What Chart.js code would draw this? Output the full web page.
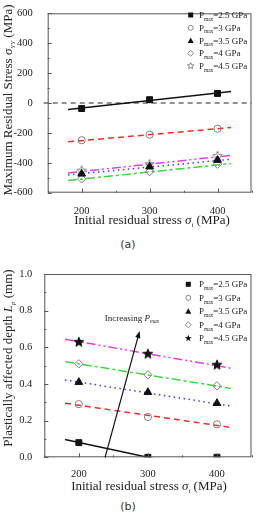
<!DOCTYPE html>
<html>
<head>
<meta charset="utf-8">
<script src="https://cdn.jsdelivr.net/npm/chart.js@4.4.1/dist/chart.umd.min.js"></script>
<style>
  body { margin: 0; background: #fff; width: 257px; height: 514px; overflow: hidden; position: relative; }
  .wrap { position: absolute; left: 0; }
  .cap { position: absolute; left: 0; width: 256px; text-align: center; font: 11px "DejaVu Sans", sans-serif; color: #333; }
</style>
</head>
<body>
<div class="wrap" style="top:0"><canvas id="chartA" width="257" height="232"></canvas></div>
<div class="cap" style="top:238px">(a)</div>
<div class="wrap" style="top:255px"><canvas id="chartB" width="257" height="245"></canvas></div>
<div class="cap" style="top:500px">(b)</div>
<script>
// shared
var xVals = [200, 300, 400];
var fitX = [180, 420];
var legendLabels = ['2.5', '3', '3.5', '4', '4.5'];

// (a) maximum residual stress (MPa)
var stressP25 = [-37, 22, 64];
var stressP3 = [-249, -212, -172];
var stressP35 = [-474, -426, -382];
var stressP4 = [-507, -459, -409];
var stressP45 = [-452, -409, -354];
var stressFit = [[-44, 77], [-260, -164], [-481, -376], [-518, -405], [-468, -350]];

// (b) plastically affected depth (mm)
var depthP25 = [0.08, 0.0, 0.0];
var depthP3 = [0.29, 0.22, 0.18];
var depthP35 = [0.41, 0.355, 0.295];
var depthP4 = [0.51, 0.45, 0.39];
var depthP45 = [0.63, 0.565, 0.505];
var depthFit = [[0.097, -0.097], [0.295, 0.163], [0.422, 0.28], [0.522, 0.376], [0.644, 0.486]];
var arrowX = [238, 288];
var arrowY = [0, 0.689];

var SERIF = '"Liberation Serif", "Times New Roman", serif';
var lineColors = ['#111111', '#e8302a', '#3a3af0', '#3fd23f', '#e040e0'];
var lineDashes = [[], [6, 4], [1.5, 3.5], [9, 3, 3, 3], [9, 3, 2, 3, 2, 3]];

function starPath(ctx, x, y, ro, ri) {
    ctx.beginPath();
    for (var i = 0; i < 10; i++) {
        var r = i % 2 === 0 ? ro : ri;
        var a = -Math.PI / 2 + i * Math.PI / 5;
        ctx.lineTo(x + r * Math.cos(a), y + r * Math.sin(a));
    }
    ctx.closePath();
}

function makeStar(fill, stroke) {
    var c = document.createElement('canvas');
    c.width = 12; c.height = 12;
    var g = c.getContext('2d');
    starPath(g, 6, 6.3, 5, 2.2);
    if (fill) { g.fillStyle = fill; g.fill(); }
    g.strokeStyle = stroke; g.lineWidth = 1; g.stroke();
    return c;
}

function drawMarker(ctx, kind, x, y, filled) {
    ctx.save();
    ctx.lineWidth = 1;
    ctx.fillStyle = '#111';
    ctx.strokeStyle = '#888';
    ctx.beginPath();
    if (kind === 'rect') {
        ctx.fillRect(x - 2.5, y - 2.5, 5, 5);
    } else if (kind === 'circle') {
        ctx.arc(x, y, 2.5, 0, Math.PI * 2); ctx.stroke();
    } else if (kind === 'triangle') {
        ctx.moveTo(x, y - 3); ctx.lineTo(x + 3, y + 2.5); ctx.lineTo(x - 3, y + 2.5); ctx.closePath(); ctx.fill();
    } else if (kind === 'rectRot') {
        ctx.moveTo(x, y - 3); ctx.lineTo(x + 3, y); ctx.lineTo(x, y + 3); ctx.lineTo(x - 3, y); ctx.closePath(); ctx.stroke();
    } else {
        starPath(ctx, x, y, 3.5, 1.5);
        if (filled) ctx.fill(); else ctx.stroke();
    }
    ctx.restore();
}

// text with italic / subscript pieces, centred or left aligned
function drawRich(ctx, parts, x, y, align) {
    var total = 0;
    parts.forEach(function(p) {
        ctx.font = (p.italic ? 'italic ' : '') + p.size + 'px ' + SERIF;
        p.w = ctx.measureText(p.t).width;
        total += p.w;
    });
    var cx = align === 'left' ? x : x - total / 2;
    ctx.textBaseline = 'alphabetic';
    ctx.textAlign = 'left';
    parts.forEach(function(p) {
        ctx.font = (p.italic ? 'italic ' : '') + p.size + 'px ' + SERIF;
        ctx.fillText(p.t, cx, y + (p.dy || 0));
        cx += p.w;
    });
}

function pmaxParts(label, size) {
    return [
        { t: 'P', size: size },
        { t: 'max', size: size * 0.6, dy: size * 0.3 },
        { t: '=' + label + ' GPa', size: size }
    ];
}

function makeDatasets(series, fits, starFilled) {
    var kinds = ['rect', 'circle', 'triangle', 'rectRot', 'star'];
    var ds = [];
    series.forEach(function(vals, i) {
        ds.push({
            type: 'line',
            data: fitX.map(function(x, j) { return { x: x, y: fits[i][j] }; }),
            borderColor: lineColors[i],
            borderDash: lineDashes[i],
            borderWidth: 1.5,
            pointRadius: 0,
            fill: false,
            clip: 0,
            order: 2
        });
    });
    series.forEach(function(vals, i) {
        var d = {
            type: 'scatter',
            data: xVals.map(function(x, j) { return { x: x, y: vals[j] }; }),
            pointStyle: kinds[i],
            pointRadius: 3.5,
            pointBorderWidth: 1,
            pointBackgroundColor: '#111',
            pointBorderColor: '#111',
            clip: 0,
            order: 1
        };
        if (i === 0) d.pointRadius = 4.2;
        if (i === 2) d.pointRadius = 4.5;
        if (i === 1 || i === 3) {
            d.pointBackgroundColor = 'rgba(255,255,255,0)';
            d.pointBorderColor = '#808080';
            d.pointRadius = i === 3 ? 4.2 : 3.6;
        }
        if (i === 4) d.pointStyle = starFilled ? makeStar('#111', '#111') : makeStar(null, '#808080');
        ds.push(d);
    });
    return ds;
}

function framePlugin(cfg) {
    return {
        id: 'frame' + cfg.name,
        beforeDatasetsDraw: function(chart) {
            if (!cfg.zeroLine) return;
            var a = chart.chartArea, ctx = chart.ctx;
            var y0 = chart.scales.y.getPixelForValue(0);
            ctx.save();
            ctx.strokeStyle = '#222';
            ctx.lineWidth = 1;
            ctx.setLineDash([5, 4]);
            ctx.beginPath();
            ctx.moveTo(a.left - 4, y0); ctx.lineTo(a.right, y0);
            ctx.stroke();
            ctx.restore();
        },
        afterDraw: function(chart) {
            var a = chart.chartArea, ctx = chart.ctx;
            var sx = chart.scales.x, sy = chart.scales.y;
            ctx.save();
            ctx.strokeStyle = '#555';
            ctx.lineWidth = 1;
            ctx.strokeRect(a.left + 0.5, a.top + 0.5, a.right - a.left - 1, a.bottom - a.top - 1);
            ctx.beginPath();
            cfg.xMinor.forEach(function(v) {
                var px = Math.round(sx.getPixelForValue(v)) + 0.5;
                var len = xVals.indexOf(v) >= 0 ? 4 : 2;
                ctx.moveTo(px, a.bottom); ctx.lineTo(px, a.bottom - len);
            });
            cfg.yMinor.forEach(function(v, k) {
                var py = Math.round(sy.getPixelForValue(v)) + 0.5;
                var len = k % 2 === 0 ? 4 : 2;
                ctx.moveTo(a.left, py); ctx.lineTo(a.left + len, py);
            });
            ctx.stroke();

            // axis titles
            ctx.fillStyle = '#222';
            drawRich(ctx, [
                { t: 'Initial residual stress ', size: 13 },
                { t: '\u03c3', size: 13, italic: true },
                { t: 'i', size: 7, italic: true, dy: 3 },
                { t: ' (MPa)', size: 13 }
            ], cfg.xTitle[0], cfg.xTitle[1], 'center');
            ctx.save();
            ctx.translate(cfg.yTitle[0], cfg.yTitle[1]);
            ctx.rotate(-Math.PI / 2);
            drawRich(ctx, cfg.yTitleParts, 0, 0, 'center');
            ctx.restore();

            // legend
            legendLabels.forEach(function(lab, i) {
                var ly = cfg.legend.y0 + i * cfg.legend.dy;
                drawMarker(ctx, ['rect', 'circle', 'triangle', 'rectRot', 'star'][i], cfg.legend.mx, ly, cfg.starFilled);
                ctx.fillStyle = '#222';
                drawRich(ctx, pmaxParts(lab, 9), cfg.legend.tx, ly + 3, 'left');
            });

            if (cfg.arrow) {
                var x1 = sx.getPixelForValue(arrowX[0]), y1 = sy.getPixelForValue(arrowY[0]);
                var x2 = sx.getPixelForValue(arrowX[1]), y2 = sy.getPixelForValue(arrowY[1]);
                var ang = Math.atan2(y2 - y1, x2 - x1);
                ctx.strokeStyle = '#111';
                ctx.fillStyle = '#111';
                ctx.lineWidth = 1.2;
                ctx.beginPath();
                ctx.moveTo(x1, y1); ctx.lineTo(x2 - 5 * Math.cos(ang), y2 - 5 * Math.sin(ang));
                ctx.stroke();
                ctx.beginPath();
                ctx.moveTo(x2, y2);
                ctx.lineTo(x2 - 7 * Math.cos(ang) + 2.6 * Math.sin(ang), y2 - 7 * Math.sin(ang) - 2.6 * Math.cos(ang));
                ctx.lineTo(x2 - 7 * Math.cos(ang) - 2.6 * Math.sin(ang), y2 - 7 * Math.sin(ang) + 2.6 * Math.cos(ang));
                ctx.closePath();
                ctx.fill();
                ctx.fillStyle = '#222';
                drawRich(ctx, [
                    { t: 'Increasing ', size: 9 },
                    { t: 'P', size: 9, italic: true },
                    { t: 'max', size: 5.5, italic: true, dy: 2.5 }
                ], sx.getPixelForValue(237.5), sy.getPixelForValue(0.745), 'left');
            }
            ctx.restore();
        }
    };
}

function tickFont() {
    return { family: SERIF, size: 10.5 };
}

// chart (a)
new Chart(document.getElementById('chartA').getContext('2d'), {
    type: 'scatter',
    data: { datasets: makeDatasets([stressP25, stressP3, stressP35, stressP4, stressP45], stressFit, false) },
    options: {
        responsive: false,
        animation: false,
        layout: { padding: { top: 9.5, right: 0, left: 0, bottom: 0 } },
        plugins: { legend: { display: false }, tooltip: { enabled: false } },
        scales: {
            x: {
                type: 'linear', min: 150, max: 450,
                afterBuildTicks: function(s) { s.ticks = xVals.map(function(v) { return { value: v }; }); },
                afterFit: function(s) { s.height = 39.3; },
                ticks: { font: tickFont(), color: '#222', padding: 4, maxRotation: 0 },
                grid: { display: false }, border: { display: false }
            },
            y: {
                min: -600, max: 600,
                afterFit: function(s) { s.width = 47.7; },
                ticks: { stepSize: 200, font: tickFont(), color: '#222', padding: 7 },
                grid: { display: false }, border: { display: false }
            }
        }
    },
    plugins: [framePlugin({
        name: 'A', zeroLine: true, starFilled: false,
        xMinor: [150, 200, 250, 300, 350, 400, 450],
        yMinor: [-600, -500, -400, -300, -200, -100, 0, 100, 200, 300, 400, 500, 600],
        xTitle: [152, 224],
        yTitle: [12, 100],
        yTitleParts: [
            { t: 'Maximum Residual Stress ', size: 13 },
            { t: '\u03c3', size: 13, italic: true },
            { t: 'YY', size: 7, italic: true, dy: 3 },
            { t: ' (MPa)', size: 13 }
        ],
        legend: { mx: 190.7, tx: 199, y0: 15, dy: 12.75 }
    })]
});

// chart (b)
new Chart(document.getElementById('chartB').getContext('2d'), {
    type: 'scatter',
    data: { datasets: makeDatasets([depthP25, depthP3, depthP35, depthP4, depthP45], depthFit, true) },
    options: {
        responsive: false,
        animation: false,
        layout: { padding: { top: 19, right: 5.3, left: 0, bottom: 0 } },
        plugins: { legend: { display: false }, tooltip: { enabled: false } },
        scales: {
            x: {
                type: 'linear', min: 150, max: 450,
                afterBuildTicks: function(s) { s.ticks = xVals.map(function(v) { return { value: v }; }); },
                afterFit: function(s) { s.height = 42.7; },
                ticks: { font: tickFont(), color: '#222', padding: 3, maxRotation: 0 },
                grid: { display: false }, border: { display: false }
            },
            y: {
                min: 0, max: 1,
                afterFit: function(s) { s.width = 44.3; },
                ticks: { stepSize: 0.2, font: tickFont(), color: '#222', padding: 4,
                    callback: function(v) { return v.toFixed(1); } },
                grid: { display: false }, border: { display: false }
            }
        }
    },
    plugins: [framePlugin({
        name: 'B', zeroLine: false, starFilled: true, arrow: true,
        xMinor: [150, 200, 250, 300, 350, 400, 450],
        yMinor: [0, 0.1, 0.2, 0.3, 0.4, 0.5, 0.6, 0.7, 0.8, 0.9, 1.0],
        xTitle: [149, 235],
        yTitle: [12, 103],
        yTitleParts: [
            { t: 'Plastically affected depth ', size: 13 },
            { t: 'L', size: 13, italic: true },
            { t: 'p', size: 7, italic: true, dy: 3 },
            { t: ' (mm)', size: 13 }
        ],
        legend: { mx: 188.3, tx: 199, y0: 29.3, dy: 13.5 }
    })]
});
</script>
</body>
</html>
